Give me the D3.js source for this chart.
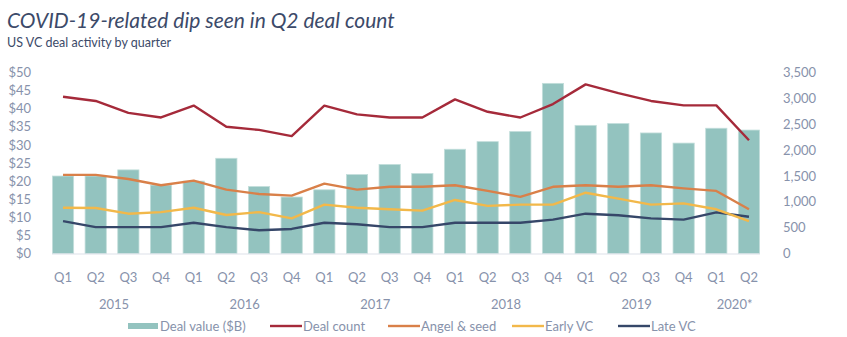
<!DOCTYPE html>
<html>
<head>
<meta charset="utf-8">
<script src="https://cdn.jsdelivr.net/npm/d3@7"></script>
<style>
  body { margin: 0; background: #fff; font-family: Lato, "Open Sans", sans-serif; }
  svg text { font-family: Lato, "Open Sans", sans-serif; }
</style>
</head>
<body>
<svg id="chart" width="847" height="337"></svg>
<script>
// quarters and year groups
var quarters = ["Q1","Q2","Q3","Q4","Q1","Q2","Q3","Q4","Q1","Q2","Q3","Q4",
                "Q1","Q2","Q3","Q4","Q1","Q2","Q3","Q4","Q1","Q2"];
var years = ["2015","2016","2017","2018","2019","2020*"];
var yearSpan = [4,4,4,4,4,2];

// deal value ($B), left axis
var dealValue = [21.4,21.4,23.1,18.9,20.0,26.3,18.5,15.6,17.6,21.8,24.6,22.1,
                 28.8,30.9,33.7,47.0,35.4,35.9,33.3,30.5,34.6,34.1];
// counts, right axis
var dealCount = [3030,2950,2720,2630,2860,2450,2390,2270,2860,2690,2630,2630,
                 2980,2740,2630,2890,3270,3100,2950,2865,2865,2190];
var angelSeed = [1520,1520,1440,1320,1410,1235,1150,1120,1350,1235,1290,1290,
                 1320,1210,1095,1290,1320,1290,1320,1260,1210,855];
var earlyVC = [885,880,770,800,885,745,800,680,945,885,855,830,
               1035,920,945,945,1175,1060,945,970,855,625];
var lateVC = [625,510,510,510,595,510,450,475,595,565,510,510,
              595,595,595,655,770,740,680,655,795,710];

var leftTicks = [0,5,10,15,20,25,30,35,40,45,50];
var rightTicks = [0,500,1000,1500,2000,2500,3000,3500];

var svg = d3.select("#chart");
var top_ = 72.5, bottom = 253.5;
var idx = d3.range(quarters.length);

var x = d3.scaleBand()
    .domain(idx)
    .range([46.7, 765.3])
    .paddingInner(0.35)
    .paddingOuter(0.175);
var cx = function(i){ return x(i) + x.bandwidth() / 2; };

var yL = d3.scaleLinear().domain([0,50]).range([bottom, top_]);
var yR = d3.scaleLinear().domain([0,3500]).range([bottom, top_]);

var axisColor = "#8792ab";

// title
svg.append("text")
    .attr("x", 7).attr("y", 28)
    .attr("font-size", 21).attr("font-style", "italic")
    .attr("fill", "#3c4a69")
    .text("COVID-19-related dip seen in Q2 deal count");
svg.append("text")
    .attr("x", 7).attr("y", 47)
    .attr("font-size", 12.5)
    .attr("fill", "#3c4a69")
    .text("US VC deal activity by quarter");

// left axis labels
svg.append("g").selectAll("text")
    .data(leftTicks).join("text")
    .attr("x", 31).attr("y", d => yL(d)).attr("dy", "0.36em")
    .attr("text-anchor", "end").attr("font-size", 13)
    .attr("fill", axisColor)
    .text(d => "$" + d);

// right axis labels
svg.append("g").selectAll("text")
    .data(rightTicks).join("text")
    .attr("x", 783).attr("y", d => yR(d)).attr("dy", "0.36em")
    .attr("text-anchor", "start").attr("font-size", 13)
    .attr("fill", axisColor)
    .text(d => d3.format(",")(d));

// bars
svg.append("g").selectAll("rect")
    .data(dealValue).join("rect")
    .attr("x", (d,i) => x(i))
    .attr("width", x.bandwidth())
    .attr("y", d => yL(d))
    .attr("height", d => bottom - yL(d))
    .attr("fill", "#93c3bf")
    .attr("stroke", "#c3dedb")
    .attr("stroke-width", 0.8);

// baseline
svg.append("line")
    .attr("x1", 52).attr("x2", 760)
    .attr("y1", bottom + 0.5).attr("y2", bottom + 0.5)
    .attr("stroke", "#dde1e9").attr("stroke-width", 1);

// lines
var series = [
  {name: "Deal count", vals: dealCount, color: "#a52a3a"},
  {name: "Angel & seed", vals: angelSeed, color: "#d98049"},
  {name: "Early VC", vals: earlyVC, color: "#f2b84a"},
  {name: "Late VC", vals: lateVC, color: "#364769"}
];
var line = d3.line().x((d,i) => cx(i)).y(d => yR(d));
series.slice().reverse().forEach(function(s){
  svg.append("path")
      .datum(s.vals)
      .attr("fill", "none")
      .attr("stroke", s.color)
      .attr("stroke-width", 2.4)
      .attr("stroke-linejoin", "round")
      .attr("d", line);
});

// x labels
svg.append("g").selectAll("text")
    .data(quarters).join("text")
    .attr("x", (d,i) => cx(i)).attr("y", 277).attr("dy", "0.36em")
    .attr("text-anchor", "middle").attr("font-size", 13)
    .attr("fill", axisColor)
    .text(d => d);

var start = 0;
years.forEach(function(yr, k){
  var a = start, b = start + yearSpan[k] - 1;
  svg.append("text")
      .attr("x", (cx(a) + cx(b)) / 2 + 2).attr("y", 304).attr("dy", "0.36em")
      .attr("text-anchor", "middle").attr("font-size", 13)
      .attr("fill", axisColor)
      .text(yr);
  start += yearSpan[k];
});

// legend
var legend = [
  {name: "Deal value ($B)", color: "#93c3bf", type: "rect", x: 128},
  {name: "Deal count", color: "#a52a3a", type: "line", x: 270},
  {name: "Angel & seed", color: "#d98049", type: "line", x: 388},
  {name: "Early VC", color: "#f2b84a", type: "line", x: 512},
  {name: "Late VC", color: "#364769", type: "line", x: 618}
];
var lg = svg.append("g");
legend.forEach(function(l){
  if (l.type === "rect") {
    lg.append("rect").attr("x", l.x).attr("y", 323).attr("width", 30).attr("height", 6)
        .attr("fill", l.color);
  } else {
    lg.append("line").attr("x1", l.x).attr("x2", l.x + 32)
        .attr("y1", 326).attr("y2", 326)
        .attr("stroke", l.color).attr("stroke-width", 2.4);
  }
  lg.append("text").attr("x", l.x + (l.type === "rect" ? 32 : 33)).attr("y", 326).attr("dy", "0.36em")
      .attr("font-size", 13).attr("fill", axisColor)
      .text(l.name);
});
</script>
</body>
</html>
